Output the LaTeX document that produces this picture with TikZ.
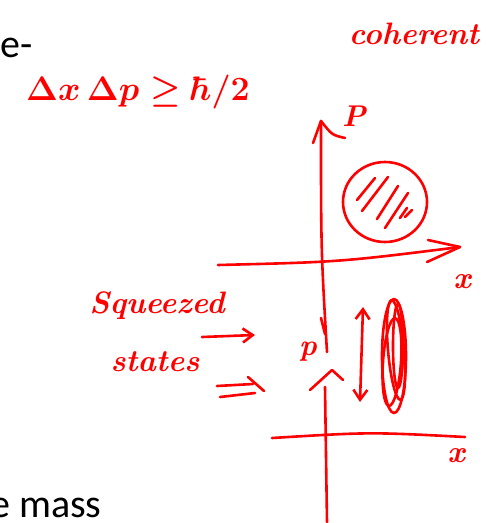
\RequirePackage{fix-cm}
\documentclass[tikz,border=0pt]{standalone}
\usepackage{fontspec}
\newfontfamily\slidefont{Carlito}
\usepackage{tikz}
\usetikzlibrary{arrows.meta,positioning}

\begin{document}
\begin{tikzpicture}[
  x=1pt, y=-1pt,
  pen/.style={draw=red, line width=2.6pt, line cap=round, line join=round},
  barb/.style={{Straight Barb[length=10pt,width=14pt]}-{Straight Barb[length=10pt,width=14pt]}},
  hand/.style={text=red, inner sep=0pt, font=\fontsize{31}{36}\selectfont\bfseries\itshape},
  slide/.style={text=black, inner sep=0pt, anchor=base west, font=\fontsize{40}{48}\slidefont}
]
\useasboundingbox (0,0) rectangle (486,523);

% slide text cut at the edge
\node[slide] (top) at (0,57) {e-};
\node[slide] (bottom) at (-10,517) {e mass};

% handwritten notes
\node[hand, font=\fontsize{34}{40}\selectfont\boldmath] (uncert) at (138,92) {$\Delta x\,\Delta p \geq \hbar/2$};
\node[hand, font=\fontsize{31}{36}\selectfont\bfseries\itshape] (coherent) at (414,34) {coherent};
\node[hand] (sqz) at (157,306) {Squeezed};
\node[hand] (states) at (155,362) {states};

% upper phase space
\coordinate (pTop) at (321,121);
\coordinate (pEnd) at (327,352);
\coordinate (xLeft) at (218,265);
\coordinate (xRight) at (460,247);
\draw[pen] (pEnd) .. controls (321,250) .. (pTop);
\draw[pen] (313,143) -- (pTop) .. controls (332,135) .. (345,138);
\draw[pen] (321,318) -- (325,334);
\draw[pen] (xLeft) .. controls (340,262) .. (xRight);
\draw[pen] (428,240) -- (xRight) -- (427,262);
\node[hand, font=\fontsize{30}{34}\selectfont\bfseries\itshape] (pUp) at (354,116) {P};
\node[hand] (xUp) at (462,282) {x};

\draw[pen] (385,202) ellipse [x radius=42, y radius=40];
\foreach \a/\b/\c/\d in {357/200/375/178, 362/211/388/177, 377/219/398/186,
                         385/228/408/193, 400/218/407/208, 405/217/412/210}
  \draw[pen] (\a,\b) -- (\c,\d);

% lower phase space
\coordinate (qTop) at (332,370);
\coordinate (qLeft) at (272,438);
\coordinate (qRight) at (465,437);
\draw[pen] (325,387) -- (327,522);
\draw[pen] (310,390) -- (qTop) -- (343,380);
\draw[pen] (qLeft) .. controls (370,432) .. (qRight);
\node[hand, font=\fontsize{30}{34}\selectfont\bfseries\itshape] (pLow) at (308,352) {p};
\node[hand] (xLow) at (456,456) {x};

\coordinate (dUp) at (363,307);
\coordinate (dDown) at (360,402);
\draw[pen, barb] (dUp) -- (dDown);

\draw[pen] (394,356) ellipse [x radius=12, y radius=57];
\draw[pen, rotate around={5:(396,350)}] (396,350) ellipse [x radius=8, y radius=50];
\draw[pen, rotate around={-4:(392,362)}] (392,362) ellipse [x radius=9, y radius=44];
\draw[pen] (398,346) ellipse [x radius=5, y radius=42];

% arrows from the note
\coordinate (a1) at (202,337);
\coordinate (a2) at (255,335);
\draw[pen, -{Straight Barb[length=10pt,width=14pt]}] (a1) -- (a2);
\draw[pen] (217,386) -- (253,384);
\draw[pen] (220,397) -- (255,393);
\draw[pen] (248,377) -- (264,391);
\end{tikzpicture}
\end{document}
